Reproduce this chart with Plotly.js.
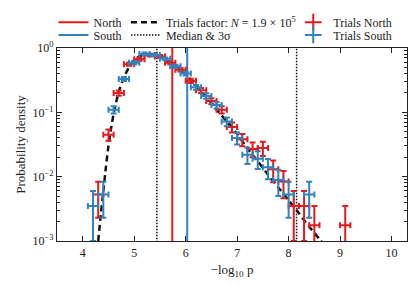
<!DOCTYPE html>
<html>
<head>
<meta charset="utf-8">
<script src="https://cdn.plot.ly/plotly-3.0.1.min.js"></script>
<style>html,body{margin:0;padding:0;background:#fff;}#chart{width:415px;height:285px;}</style>
</head>
<body>
<div id="chart"></div>
<script>
// ---- data ----
const northX = [4.3, 4.5, 4.7, 4.9, 5.1, 5.3, 5.5, 5.7, 5.9, 6.1, 6.3, 6.5, 6.7, 6.9, 7.1, 7.3, 7.5, 7.7, 7.9, 8.1, 8.3, 8.5, 9.1];
const northY = [0.0053, 0.045, 0.20, 0.56, 0.67, 0.78, 0.74, 0.59, 0.46, 0.31, 0.22, 0.15, 0.11, 0.059, 0.038, 0.027, 0.028, 0.013, 0.0084, 0.0035, 0.0035, 0.00175, 0.00175];
const northErr = [0.0030, 0.0089, 0.0187, 0.031, 0.034, 0.037, 0.036, 0.032, 0.028, 0.023, 0.0196, 0.0162, 0.0139, 0.0102, 0.0082, 0.0069, 0.0070, 0.0048, 0.0038, 0.0025, 0.0025, 0.00175, 0.00175];
const southX = [4.2, 4.4, 4.6, 4.8, 5.0, 5.2, 5.4, 5.6, 5.8, 6.0, 6.2, 6.4, 6.6, 6.8, 7.0, 7.2, 7.4, 7.6, 7.8, 8.0, 8.4];
const southY = [0.0035, 0.0053, 0.11, 0.33, 0.59, 0.81, 0.78, 0.68, 0.52, 0.40, 0.245, 0.18, 0.13, 0.072, 0.040, 0.022, 0.019, 0.014, 0.0089, 0.0053, 0.0053];
const southErr = [0.0025, 0.0030, 0.0139, 0.024, 0.032, 0.038, 0.037, 0.034, 0.030, 0.026, 0.0207, 0.0177, 0.0151, 0.0112, 0.0084, 0.0062, 0.0058, 0.0049, 0.0039, 0.0030, 0.0030];
const trialsX = [4.30, 4.35, 4.40, 4.45, 4.50, 4.55, 4.60, 4.70, 4.80, 4.90, 5.00, 5.10, 5.20, 5.30, 5.40, 5.50, 5.60, 5.70, 5.80, 5.90, 6.00, 6.20, 6.40, 6.60, 6.80, 7.00, 7.20, 7.40, 7.60, 7.80, 8.00, 8.20, 8.40, 8.60, 8.65];
const trialsY = [0.00100, 0.0025, 0.0059, 0.0141, 0.030, 0.056, 0.095, 0.21, 0.35, 0.50, 0.65, 0.74, 0.79, 0.79, 0.78, 0.72, 0.66, 0.59, 0.52, 0.46, 0.39, 0.26, 0.174, 0.110, 0.072, 0.046, 0.0275, 0.0174, 0.0107, 0.0068, 0.0043, 0.0027, 0.00166, 0.00107, 0.00095];
const northObs = 5.74;
const southObs = 6.03;
const median = 5.44;
const sigma3 = 8.155;
const xTicks = [4, 5, 6, 7, 8, 9, 10];
const yTicks = [0.001, 0.01, 0.1, 1];
const yTickText = ['10<sup>−3</sup>', '10<sup>−2</sup>', '10<sup>−1</sup>', '10<sup>0</sup>'];
const yMinorTicks = [0.002, 0.003, 0.004, 0.005, 0.006, 0.007, 0.008, 0.009,
                     0.02, 0.03, 0.04, 0.05, 0.06, 0.07, 0.08, 0.09,
                     0.2, 0.3, 0.4, 0.5, 0.6, 0.7, 0.8, 0.9];

const RED = '#e41a1c';
const BLUE = '#3182bd';
const FONT = 'Liberation Serif, DejaVu Serif, serif';
const tall = [1e-4, 10];

const traces = [
  {x: [northObs, northObs], y: tall, mode: 'lines', line: {color: RED, width: 2}, name: 'North', legend: 'legend'},
  {x: [southObs, southObs], y: tall, mode: 'lines', line: {color: BLUE, width: 2}, name: 'South', legend: 'legend2'},
  {x: trialsX, y: trialsY, mode: 'lines', line: {color: '#111', width: 2.5, dash: '6px,4px', shape: 'spline', smoothing: 0.6}, name: 'Trials factor: <i>N</i> = 1.9 × 10<sup>5</sup>', legend: 'legend3'},
  {x: [median, median], y: tall, mode: 'lines', line: {color: '#111', width: 1.5, dash: '1.5px,1.5px'}, name: 'Median & 3σ', legend: 'legend4'},
  {x: [sigma3, sigma3], y: tall, mode: 'lines', line: {color: '#111', width: 1.5, dash: '1.5px,1.5px'}, showlegend: false},
  {x: northX, y: northY, mode: 'markers', marker: {size: 1, color: RED, opacity: 0}, showlegend: false,
   error_y: {type: 'data', array: northErr, color: RED, thickness: 2, width: 3},
   error_x: {type: 'constant', value: 0.1, color: RED, thickness: 2, width: 3}},
  {x: southX, y: southY, mode: 'markers', marker: {size: 1, color: BLUE, opacity: 0}, showlegend: false,
   error_y: {type: 'data', array: southErr, color: BLUE, thickness: 2, width: 3},
   error_x: {type: 'constant', value: 0.1, color: BLUE, thickness: 2, width: 3}},
  {x: [null], y: [null], mode: 'markers', marker: {symbol: 'cross-thin', size: 12, line: {width: 2, color: RED}}, name: 'Trials North', legend: 'legend5'},
  {x: [null], y: [null], mode: 'markers', marker: {symbol: 'cross-thin', size: 12, line: {width: 2, color: BLUE}}, name: 'Trials South', legend: 'legend6'}
];

function leg(x, y) {
  return {x: x, y: y, xanchor: 'left', yanchor: 'middle', bgcolor: 'rgba(0,0,0,0)', borderwidth: 0,
          font: {family: FONT, size: 12, color: '#222'}, itemclick: false};
}

const layout = {
  width: 415, height: 285,
  margin: {l: 57, r: 8, t: 43, b: 44},
  paper_bgcolor: '#fff', plot_bgcolor: '#fff',
  font: {family: FONT, size: 12, color: '#222'},
  showlegend: true,
  legend: leg(-0.01, 1.134),
  legend2: leg(-0.01, 1.068),
  legend3: leg(0.197, 1.134),
  legend4: leg(0.197, 1.068),
  legend5: leg(0.675, 1.134),
  legend6: leg(0.675, 1.068),
  xaxis: {range: [3.5, 10.3], tickvals: xTicks, ticks: 'inside', ticklen: 5, tickcolor: '#222', tickwidth: 1,
          showline: true, linecolor: '#222', linewidth: 1.2, mirror: 'ticks', showgrid: false, zeroline: false,
          tickfont: {family: FONT, size: 12, color: '#222'},
          title: {text: '−log<sub>10</sub> p', font: {family: FONT, size: 13, color: '#222'}, standoff: 6}},
  yaxis: {type: 'log', range: [-3, 0], tickvals: yTicks, ticktext: yTickText, ticks: 'inside', ticklen: 5, tickcolor: '#222',
          showline: true, linecolor: '#222', linewidth: 1.2, mirror: 'ticks', showgrid: false, zeroline: false,
          minor: {tickmode: 'array', tickvals: yMinorTicks, ticks: 'inside', ticklen: 3, tickcolor: '#222', tickwidth: 1, showgrid: false},
          tickfont: {family: FONT, size: 12, color: '#222'},
          title: {text: 'Probability density', font: {family: FONT, size: 13, color: '#222'}, standoff: 4}}
};

Plotly.newPlot('chart', traces, layout, {displayModeBar: false, staticPlot: true});
</script>
</body>
</html>
